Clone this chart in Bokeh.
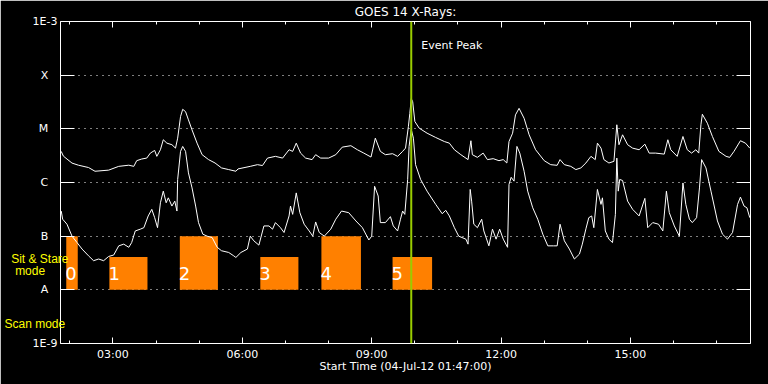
import pandas as pd
from bokeh.plotting import figure
from bokeh.models import (Range1d, FixedTicker, LogAxis, DatetimeAxis, CustomJSTickFormatter,
                          DatetimeTickFormatter, Span, Label, ColumnDataSource)
from bokeh.core.properties import value
from bokeh.embed import file_html
from bokeh.resources import INLINE

# ---------------- data ----------------
DATE = "2012-07-04"
START = "01:47"
END = "17:47"
EVENT_PEAK = "09:55"
title_text = "GOES 14 X-Rays:"
xlabel_text = "Start Time (04-Jul-12 01:47:00)"

y_ticks = [1e-9, 1e-8, 1e-7, 1e-6, 1e-5, 1e-4, 1e-3]
y_tick_labels = ["1E-9", "A", "B", "C", "M", "X", "1E-3"]
x_tick_labels = ["03:00", "06:00", "09:00", "12:00", "15:00"]

# long channel (upper curve)
t_long = ["01:48", "01:51", "02:03", "02:12", "02:26", "02:35", "02:54", "03:08", "03:22", "03:29",
          "03:33", "03:40", "03:47", "03:52", "03:58", "04:01", "04:06", "04:10", "04:15", "04:22",
          "04:27", "04:30", "04:34", "04:37", "04:41", "04:45", "04:50", "04:57", "05:04", "05:13",
          "05:22", "05:31", "05:41", "05:51", "05:54", "06:11", "06:21", "06:28", "06:35", "06:46",
          "06:56", "07:05", "07:10", "07:15", "07:21", "07:28", "07:37", "07:42", "07:49", "08:00",
          "08:10", "08:19", "08:31", "08:40", "08:49", "08:59", "09:05", "09:12", "09:19", "09:29",
          "09:36", "09:43", "09:47", "09:51", "09:53", "09:55", "09:57", "10:00", "10:06", "10:17",
          "10:29", "10:41", "10:48", "10:55", "11:04", "11:14", "11:18", "11:20", "11:27", "11:35",
          "11:41", "11:49", "11:57", "12:03", "12:08", "12:11", "12:16", "12:20", "12:25", "12:32",
          "12:39", "12:48", "13:00", "13:09", "13:18", "13:22", "13:28", "13:37", "13:44", "13:51",
          "13:58", "14:05", "14:11", "14:14", "14:19", "14:23", "14:30", "14:37", "14:41", "14:44",
          "14:49", "14:56", "15:03", "15:12", "15:20", "15:26", "15:35", "15:47", "15:52", "15:56",
          "16:05", "16:13", "16:19", "16:25", "16:31", "16:35", "16:38", "16:40", "16:47", "16:54",
          "17:03", "17:13", "17:18", "17:24", "17:33", "17:40", "17:46"]
flux_long = [3.8e-6, 3.1e-6, 2.3e-6, 2.1e-6, 1.9e-6, 1.62e-6, 1.7e-6, 2.0e-6, 2.1e-6, 2.0e-6,
             2.55e-6, 2.74e-6, 2.85e-6, 3.53e-6, 3.96e-6, 3.07e-6, 4.08e-6, 6.26e-6, 5.41e-6, 5.06e-6,
             4.37e-6, 6.7e-6, 1.69e-5, 2.31e-5, 2.09e-5, 1.47e-5, 9.55e-6, 5.41e-6, 3.3e-6, 2.67e-6,
             2.31e-6, 1.87e-6, 1.74e-6, 1.62e-6, 1.79e-6, 2.0e-6, 2.15e-6, 2.07e-6, 2.85e-6, 3.07e-6,
             2.85e-6, 4.08e-6, 3.8e-6, 5.41e-6, 3.53e-6, 2.85e-6, 2.67e-6, 3.3e-6, 2.85e-6, 2.85e-6,
             3.3e-6, 4.56e-6, 4.85e-6, 4.08e-6, 3.53e-6, 2.98e-6, 6.7e-6, 3.8e-6, 3.3e-6, 3.44e-6,
             3.07e-6, 3.8e-6, 4.37e-6, 1.1e-5, 1.94e-5, 3.64e-5, 3.2e-5, 1.37e-5, 1.03e-5, 8.3e-6,
             6.9e-6, 5.8e-6, 5.41e-6, 4.08e-6, 3.3e-6, 2.67e-6, 6.0e-6, 3.3e-6, 2.94e-6, 3.53e-6,
             2.67e-6, 2.78e-6, 2.55e-6, 2.67e-6, 2.31e-6, 5.8e-6, 8.3e-6, 1.82e-5, 2.41e-5, 1.57e-5,
             7.74e-6, 4.08e-6, 2.55e-6, 2.15e-6, 2.09e-6, 2.67e-6, 2.15e-6, 2.0e-6, 1.74e-6, 1.87e-6,
             2.31e-6, 3.07e-6, 2.67e-6, 5.41e-6, 4.37e-6, 2.67e-6, 2.31e-6, 2.48e-6, 1.19e-5, 5.06e-6,
             7.74e-6, 5.06e-6, 4.37e-6, 4.08e-6, 5.18e-6, 3.53e-6, 3.53e-6, 3.38e-6, 6.26e-6, 4.08e-6,
             3.07e-6, 7.2e-6, 4.08e-6, 3.53e-6, 4.08e-6, 3.53e-6, 1.19e-5, 1.87e-5, 1.27e-5, 7.2e-6,
             3.8e-6, 3.07e-6, 2.94e-6, 3.8e-6, 6.0e-6, 5.41e-6, 4.37e-6]

# short channel (lower curve)
t_short = ["01:48", "01:50", "01:56", "02:03", "02:10", "02:17", "02:26", "02:33", "02:40", "02:47",
           "02:54", "03:01", "03:08", "03:15", "03:22", "03:26", "03:31", "03:38", "03:43", "03:49",
           "03:54", "03:58", "04:02", "04:06", "04:10", "04:14", "04:17", "04:22", "04:26", "04:29",
           "04:30", "04:34", "04:37", "04:41", "04:45", "04:50", "04:55", "04:59", "05:05", "05:11",
           "05:18", "05:25", "05:31", "05:41", "05:48", "05:51", "05:58", "06:07", "06:11", "06:16",
           "06:23", "06:30", "06:37", "06:42", "06:46", "06:53", "06:58", "07:05", "07:07", "07:10",
           "07:15", "07:20", "07:26", "07:33", "07:38", "07:42", "07:47", "07:54", "08:03", "08:10",
           "08:18", "08:28", "08:38", "08:47", "08:56", "09:00", "09:04", "09:09", "09:12", "09:19",
           "09:26", "09:30", "09:36", "09:40", "09:43", "09:46", "09:50", "09:52", "09:55", "09:58",
           "10:01", "10:08", "10:17", "10:29", "10:38", "10:43", "10:48", "10:55", "11:01", "11:11",
           "11:14", "11:17", "11:19", "11:22", "11:27", "11:33", "11:36", "11:43", "11:48", "11:53",
           "11:58", "12:03", "12:09", "12:11", "12:14", "12:18", "12:22", "12:26", "12:32", "12:37",
           "12:44", "12:51", "12:58", "13:05", "13:13", "13:18", "13:22", "13:28", "13:35", "13:42",
           "13:49", "13:53", "13:58", "14:02", "14:06", "14:09", "14:14", "14:19", "14:21", "14:25",
           "14:30", "14:35", "14:39", "14:41", "14:43", "14:45", "14:49", "14:56", "15:03", "15:12",
           "15:20", "15:24", "15:31", "15:39", "15:45", "15:50", "15:54", "16:01", "16:08", "16:13",
           "16:17", "16:22", "16:26", "16:32", "16:36", "16:39", "16:45", "16:52", "17:01", "17:08",
           "17:15", "17:22", "17:29", "17:33", "17:38", "17:42", "17:46"]
flux_short = [2.94e-7, 2.07e-7, 1.67e-7, 1.0e-7, 7.6e-8, 5.75e-8, 4.3e-8, 3.49e-8, 3.75e-8, 3.49e-8,
              4.19e-8, 4.45e-8, 6.6e-8, 7.1e-8, 6.2e-8, 7.6e-8, 1.25e-7, 1.35e-7, 1.44e-7, 2.38e-7,
              3.16e-7, 2.21e-7, 1.44e-7, 4.19e-7, 6.9e-7, 4.19e-7, 5.18e-7, 3.64e-7, 4.5e-7, 2.94e-7,
              1.14e-6, 3.8e-6, 4.7e-6, 3.8e-6, 1.51e-6, 7.94e-7, 3.64e-7, 1.79e-7, 1.09e-7, 1.0e-7,
              9.4e-8, 6.2e-8, 5.35e-8, 4.97e-8, 4.3e-8, 4.01e-8, 4.97e-8, 5.75e-8, 1.0e-7, 8.18e-8,
              6.81e-8, 1.55e-7, 1.55e-7, 1.35e-7, 1.79e-7, 1.44e-7, 1.17e-7, 2.38e-7, 3.64e-7, 2.55e-7,
              6.4e-7, 2.74e-7, 1.67e-7, 1.25e-7, 1.0e-7, 1.84e-7, 1.17e-7, 1.0e-7, 1.35e-7, 2.07e-7,
              2.94e-7, 2.74e-7, 1.92e-7, 1.44e-7, 8.5e-8, 1.0e-7, 8.5e-7, 5.6e-7, 1.79e-7, 1.79e-7,
              2.31e-7, 1.55e-7, 1.25e-7, 2.07e-7, 2.94e-7, 2.55e-7, 1.14e-6, 4.7e-6, 9.7e-6, 6.7e-6,
              2.15e-6, 1.14e-6, 6.9e-7, 3.91e-7, 2.62e-7, 3.03e-7, 2.38e-7, 1.44e-7, 1.0e-7, 8.8e-8,
              7.1e-8, 7.43e-7, 4.5e-7, 1.67e-7, 1.44e-7, 2.07e-7, 1.25e-7, 6.6e-8, 1.35e-7, 8.8e-8,
              1.35e-7, 8.8e-8, 6.2e-8, 9.2e-7, 1.25e-6, 1.06e-6, 4.7e-6, 3.53e-6, 1.62e-6, 6.9e-7,
              3.38e-7, 2.07e-7, 1.09e-7, 6.6e-8, 6.6e-8, 6.6e-8, 1.67e-7, 8.18e-8, 5.75e-8, 3.75e-8,
              4.64e-8, 7.1e-8, 1.37e-7, 2.21e-7, 2.38e-7, 1.44e-7, 7.43e-7, 3.91e-7, 5.18e-7, 1.25e-7,
              8.8e-8, 7.6e-8, 2.55e-7, 2.85e-6, 6.9e-7, 1.14e-6, 1.09e-6, 4.5e-7, 3.16e-7, 2.38e-7,
              5.06e-7, 1.44e-7, 1.79e-7, 1.67e-7, 1.25e-7, 6.9e-7, 2.74e-7, 1.55e-7, 1.0e-7, 9.8e-7,
              3.91e-7, 2.07e-7, 1.79e-7, 2.21e-7, 7.94e-7, 2.67e-6, 1.87e-6, 6.9e-7, 1.92e-7, 1.09e-7,
              8.8e-8, 1.17e-7, 3.91e-7, 5.35e-7, 3.64e-7, 3.38e-7, 2.21e-7]

# scan windows (orange boxes)
scan_ids = ["0", "1", "2", "3", "4", "5"]
scan_start = ["01:55", "02:55", "04:33", "06:25", "07:50", "09:29"]
scan_end = ["02:11", "03:48", "05:26", "07:18", "08:45", "10:24"]
scan_top = [1e-7, 4.1e-8, 1e-7, 4.1e-8, 1e-7, 4.1e-8]
scan_bottom = [1e-8] * 6

# mode labels on the left side
mode_labels = ["Sit & Stare", "mode", "Scan mode"]
mode_levels = [3.8e-8, 2.24e-8, 2.3e-9]

# ---------------- helpers ----------------
def ts(hhmm):
    return pd.Timestamp(f"{DATE} {hhmm}")

def ms(hhmm):
    return ts(hhmm).timestamp() * 1000.0

WHITE = "white"
ORANGE = "#ff8000"
GREEN = "#99cc00"
YELLOW = "#ffff00"
FONT = "DejaVu Sans"
MODE_FONT = "Liberation Sans"

p = figure(width=768, height=384, x_axis_type="datetime", y_axis_type="log",
           x_range=Range1d(ts(START), ts(END)), y_range=Range1d(y_ticks[0], y_ticks[-1]),
           output_backend="svg", toolbar_location=None,
           background_fill_color="black", border_fill_color="black",
           min_border_left=60, min_border_right=18, min_border_top=19, min_border_bottom=41)
p.outline_line_color = None

# title
p.title.text = title_text
p.title.align = "center"
p.title.text_color = WHITE
p.title.text_font = FONT
p.title.text_font_size = "12px"
p.title.text_font_style = "normal"
p.title.standoff = 5
p.title.offset = 0

# tickers
y_ticker = FixedTicker(ticks=y_ticks, minor_ticks=[])
x_major = [ms(t) for t in x_tick_labels]
x_minor = [pd.Timestamp(t).timestamp() * 1000.0 for t in
           pd.date_range(f"{DATE} 02:00", f"{DATE} 17:00", freq="1h")]
x_ticker = FixedTicker(ticks=x_major, minor_ticks=x_minor)

y_fmt = CustomJSTickFormatter(args=dict(labels=y_tick_labels), code="""
    const k = Math.round(Math.log10(tick)) + 9;
    const s = labels[k];
    return s.length == 1 ? s + "\\u2007\\u2009" : s;
""")
x_fmt = DatetimeTickFormatter(hours="%H:%M", hourmin="%H:%M", minutes="%H:%M", days="%H:%M",
                              minsec="%H:%M", seconds="%H:%M")

def style_axis(ax):
    ax.axis_line_color = WHITE
    ax.axis_line_width = 1
    ax.major_tick_line_color = WHITE
    ax.minor_tick_line_color = WHITE
    ax.major_label_text_color = WHITE
    ax.major_label_text_font = FONT
    ax.major_label_text_font_size = "11px"
    ax.major_tick_out = 0
    ax.minor_tick_out = 0

def hide_labels(ax):
    ax.major_label_text_font_size = "0px"
    ax.major_label_text_color = None
    ax.major_label_standoff = 0

# left axis
yl = p.yaxis[0]
yl.ticker = y_ticker
yl.formatter = y_fmt
style_axis(yl)
yl.major_tick_in = 14
yl.minor_tick_line_color = None
yl.major_label_standoff = 3

# yellow mode labels as an outer left axis (no line, no ticks)
mode_fmt = CustomJSTickFormatter(args=dict(levels=mode_levels, labels=mode_labels), code="""
    let best = 0;
    for (let i = 0; i < levels.length; i++) {
        if (Math.abs(Math.log10(levels[i]) - Math.log10(tick)) <
            Math.abs(Math.log10(levels[best]) - Math.log10(tick))) best = i;
    }
    const pads = ["", "\\u2007\\u2007\\u2007\\u00a0", "\\u00a0"];
    return labels[best] + pads[best];
""")
ym = LogAxis(ticker=FixedTicker(ticks=mode_levels, minor_ticks=[]), formatter=mode_fmt)
ym.axis_line_color = None
ym.major_tick_line_color = None
ym.minor_tick_line_color = None
ym.major_tick_in = 0
ym.major_tick_out = 0
ym.major_label_text_color = YELLOW
ym.major_label_text_font = MODE_FONT
ym.major_label_text_font_size = "12px"
ym.major_label_standoff = -39
p.add_layout(ym, "left")

# right axis
yr = LogAxis(ticker=y_ticker, formatter=y_fmt)
style_axis(yr)
yr.major_tick_in = 14
yr.minor_tick_line_color = None
hide_labels(yr)
p.add_layout(yr, "right")

# bottom axis
xb = p.xaxis[0]
xb.ticker = x_ticker
xb.formatter = x_fmt
style_axis(xb)
xb.major_tick_in = 6
xb.minor_tick_in = 3
xb.major_label_standoff = 4
xb.axis_label = xlabel_text
xb.axis_label_text_color = WHITE
xb.axis_label_text_font = FONT
xb.axis_label_text_font_size = "11px"
xb.axis_label_text_font_style = "normal"
xb.axis_label_standoff = -4

# top axis
xt = DatetimeAxis(ticker=x_ticker, formatter=x_fmt)
style_axis(xt)
xt.major_tick_in = 6
xt.minor_tick_in = 3
hide_labels(xt)
p.add_layout(xt, "above")

# grid
p.xgrid.visible = False
p.ygrid.ticker = FixedTicker(ticks=y_ticks[1:-1], minor_ticks=[])
p.ygrid.grid_line_color = WHITE
p.ygrid.grid_line_dash = "1 5"
p.ygrid.grid_line_width = 1

# scan boxes
box_src = ColumnDataSource(dict(
    left=[ts(t) for t in scan_start], right=[ts(t) for t in scan_end],
    top=scan_top, bottom=scan_bottom, label=scan_ids,
))
p.quad(left="left", right="right", top="top", bottom="bottom", source=box_src,
       fill_color=ORANGE, line_color=None)

NUM_LEVEL = 2.02e-8
p.text(x="left", y=NUM_LEVEL, text="label", source=box_src, text_color=WHITE,
       text_font=value(FONT), text_font_size=value("18px"), text_baseline="middle",
       text_align="left", x_offset=-1)

# curves
p.line([ts(t) for t in t_long], flux_long, line_color=WHITE, line_width=1)
p.line([ts(t) for t in t_short], flux_short, line_color=WHITE, line_width=1)

# event peak
p.add_layout(Span(location=ms(EVENT_PEAK), dimension="height", line_color=GREEN, line_width=2))
p.add_layout(Label(x=ms(EVENT_PEAK), y=3.6e-4, text="Event Peak", x_offset=10,
                   text_color=WHITE, text_font=FONT, text_font_size="11px",
                   text_baseline="middle"))

open("out.html", "w").write(file_html(p, INLINE))
